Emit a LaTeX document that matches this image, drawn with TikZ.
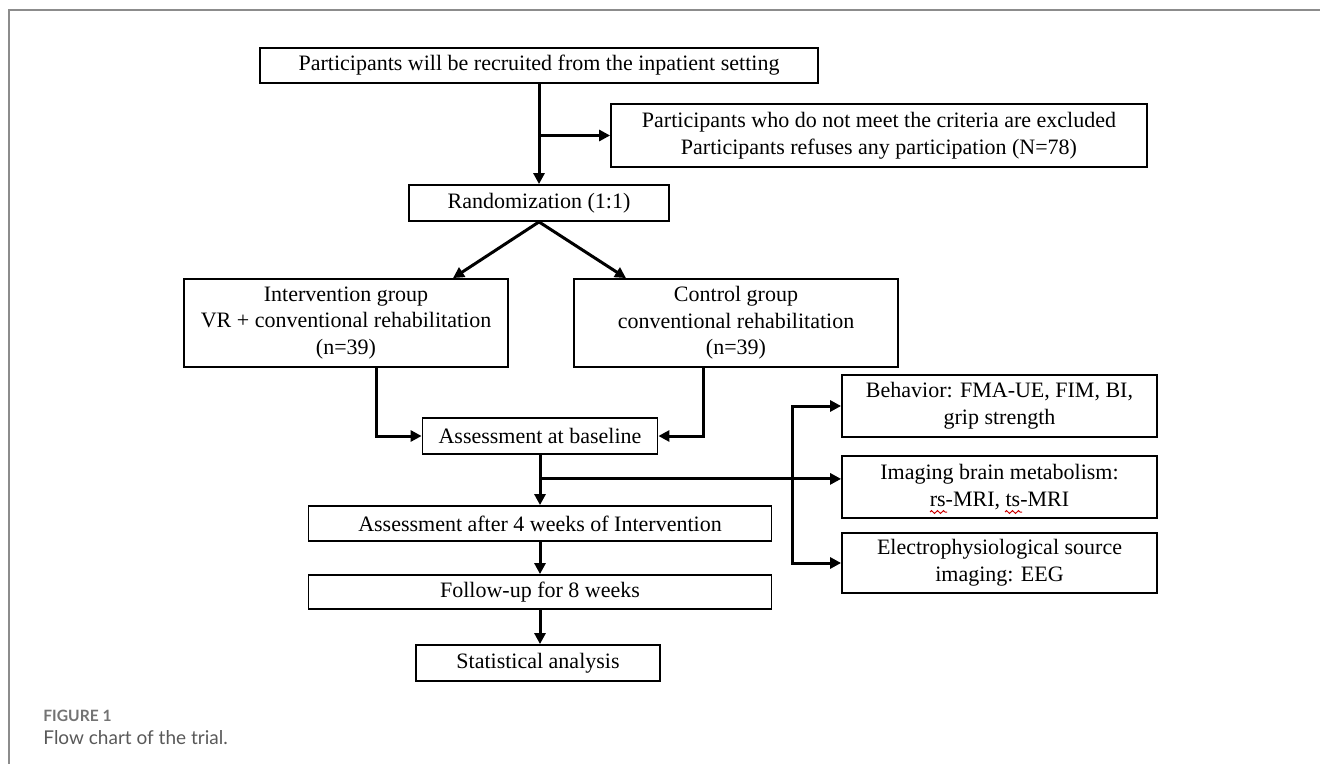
\documentclass[tikz,border=0pt]{standalone}
\usepackage{fontspec}
\setmainfont{Liberation Serif}
\newfontfamily\legendefont{Lato}
\usetikzlibrary{arrows.meta,calc,decorations.pathmorphing}

\begin{document}
\begin{tikzpicture}[x=0.5pt,y=-0.5pt]
\tikzset{
	boite/.style={draw, line width=0.9pt, align=center, inner sep=0pt,
		font=\fontsize{11}{13.3}\selectfont},
	fleche/.style={line width=1.5pt, -{Triangle[length=5.5pt,width=5.5pt]}},
	vague/.style={red!80!black, line width=0.5pt, decorate,
		decoration={zigzag, amplitude=0.7pt, segment length=3pt}},
}
\useasboundingbox (0,0) rectangle (1320,764);

 % cadre
  \draw[black!45, line width=1pt] (1320,10) -- (9,10) -- (9,764);

 % les boites
  \node[boite, minimum width=279pt, minimum height=17.5pt] (recruit) at (539,65.5)
	{Participants will be recruited from the inpatient setting};
  \node[boite, minimum width=268pt, minimum height=31.5pt] (excl) at (879,135.5)
	{Participants who do not meet the criteria are excluded\\
	 Participants refuses any participation (N=78)};
  \node[boite, minimum width=130pt, minimum height=18pt] (random) at (539,203)
	{Randomization (1:1)};
  \node[boite, minimum width=162pt, minimum height=44pt] (interv) at (346,323)
	{Intervention group\\ VR + conventional rehabilitation\\ (n=39)};
  \node[boite, minimum width=162pt, minimum height=44pt] (control) at (736,323)
	{Control group\\ conventional rehabilitation\\ (n=39)};
  \node[boite, minimum width=117.5pt, minimum height=18pt] (baseline) at (540,436)
	{Assessment at baseline};
  \node[boite, minimum width=231.5pt, minimum height=17.5pt] (weeks) at (540,523.5)
	{Assessment after 4 weeks of Intervention};
  \node[boite, minimum width=231.5pt, minimum height=17pt] (follow) at (540,592)
	{Follow-up for 8 weeks};
  \node[boite, minimum width=122pt, minimum height=18pt] (stat) at (538,663)
	{Statistical analysis};
  \node[boite, minimum width=157.5pt, minimum height=31pt] (behav) at (999.5,406)
	{Behavior: FMA-UE, FIM, BI,\\ grip strength};
  \node[boite, minimum width=157.5pt, minimum height=31pt] (imaging) at (999.5,487)
	{Imaging brain metabolism:\\ rs-MRI, ts-MRI};
  \node[boite, minimum width=157.5pt, minimum height=30pt] (electro) at (999.5,563)
	{Electrophysiological source\\ imaging: EEG};

 % soulignement du correcteur
  \draw[vague] (930,512) -- (947,512);
  \draw[vague] (1005,512) -- (1022,512);

 % les fleches
  \draw[fleche] (recruit.south) -- (random.north);
  \coordinate (sortie) at (recruit.south |- excl.west);
  \draw[fleche] (sortie) -- (excl.west);
  \draw[fleche] (random.south) -- ($(interv.north)+(107,0)$);
  \draw[fleche] (random.south) -- ($(control.north)+(-110,0)$);
  \draw[fleche] ($(interv.south)+(30,0)$) |- (baseline.west);
  \draw[fleche] ($(control.south)+(-33,0)$) |- (baseline.east);
  \draw[fleche] (baseline.south) -- (weeks.north);
  \coordinate (split) at ($(baseline.south)+(0,24)$);
  \coordinate (hub) at (792,478);
  \draw[fleche] (split) -- (split -| imaging.west);
  \draw[fleche] (hub) |- (behav.west);
  \draw[fleche] (hub) |- (electro.west);
  \draw[fleche] (weeks.south) -- (follow.north);
  \draw[fleche] (follow.south) -- (follow.south |- stat.north);

 % legende
  \node[anchor=west, inner sep=0pt, text=black!55,
	font=\legendefont\bfseries\fontsize{7.8}{9}\selectfont] (figure) at (43,716) {FIGURE 1};
  \node[anchor=west, inner sep=0pt, text=black!65,
	font=\legendefont\fontsize{9.5}{12}\selectfont] (legende) at (43,738) {Flow chart of the trial.};
\end{tikzpicture}
\end{document}
